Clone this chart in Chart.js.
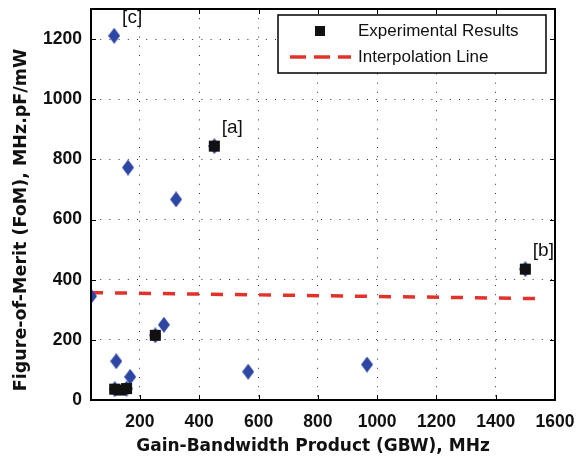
<!DOCTYPE html>
<html>
<head>
<meta charset="utf-8">
<script src="https://cdn.jsdelivr.net/npm/chart.js@4.4.1/dist/chart.umd.min.js"></script>
<style>
  html, body { margin: 0; padding: 0; background: #fff; }
  #chart { display: block; }
</style>
</head>
<body>
<canvas id="chart" width="586" height="459"></canvas>
<script>
// Experimental results (black squares)
const expX = [451, 1500, 252, 115, 135, 155];
const expY = [844, 435, 215, 36, 33, 38];

// Other reported works (blue diamonds)
const otherX = [113, 160, 322, 35, 120, 167, 281, 565, 966, 451, 1500, 252, 115, 155];
const otherY = [1211, 773, 667, 345, 129, 77, 250, 94, 118, 844, 435, 215, 36, 38];

// Interpolation line
const fitX = [35, 1550];
const fitY = [357, 337];

// Reference tags
const refLabels = ['[a]', '[b]', '[c]'];
const refX = [451, 1500, 113];
const refY = [844, 435, 1211];

// Tick labels
const xTickValues = [200, 400, 600, 800, 1000, 1200, 1400, 1600];
const yTickValues = [0, 200, 400, 600, 800, 1000, 1200];

const xTitle = 'Gain-Bandwidth Product (GBW), MHz';
const yTitle = 'Figure-of-Merit (FoM), MHz.pF/mW';

const blue = '#2d46a3';
const red = '#e2332b';
const tickFont = { family: '"Liberation Sans", Arial, sans-serif', size: 17.5, weight: 'bold' };

function toPoints(xs, ys) {
  return xs.map((x, i) => ({ x: x, y: ys[i] }));
}

// diamond marker, a bit taller than wide like the matlab one
function diamondMarker(w, h, color) {
  const c = document.createElement('canvas');
  c.width = w;
  c.height = h;
  const g = c.getContext('2d');
  g.fillStyle = color;
  g.beginPath();
  g.moveTo(w / 2, 0);
  g.lineTo(w, h / 2);
  g.lineTo(w / 2, h);
  g.lineTo(0, h / 2);
  g.closePath();
  g.fill();
  return c;
}

// frame around the plot with inward ticks on all four sides
const framePlugin = {
  id: 'frame',
  afterDatasetsDraw(chart) {
    const { ctx, chartArea: a, scales } = chart;
    ctx.save();
    ctx.strokeStyle = '#000';
    ctx.lineWidth = 1;
    const len = 5;
    ctx.beginPath();
    scales.x.ticks.forEach((t) => {
      const px = Math.round(scales.x.getPixelForValue(t.value)) + 0.5;
      ctx.moveTo(px, a.bottom);
      ctx.lineTo(px, a.bottom - len);
      ctx.moveTo(px, a.top);
      ctx.lineTo(px, a.top + len);
    });
    scales.y.ticks.forEach((t) => {
      const py = Math.round(scales.y.getPixelForValue(t.value)) + 0.5;
      ctx.moveTo(a.left, py);
      ctx.lineTo(a.left + len, py);
      ctx.moveTo(a.right, py);
      ctx.lineTo(a.right - len, py);
    });
    ctx.stroke();
    ctx.lineWidth = 2;
    ctx.strokeRect(a.left, a.top, a.right - a.left, a.bottom - a.top);
    ctx.restore();
  },
};

// axis titles, placed like the matlab figure (a little off the plot centre)
const titlePlugin = {
  id: 'axisTitles',
  afterDraw(chart) {
    const { ctx } = chart;
    ctx.save();
    ctx.fillStyle = '#111';
    ctx.textAlign = 'center';
    ctx.textBaseline = 'middle';
    ctx.font = 'bold 17px "DejaVu Sans", sans-serif';
    ctx.fillText(xTitle, 313, 447);
    ctx.font = 'bold 17.5px "DejaVu Sans", sans-serif';
    ctx.translate(21, 220);
    ctx.rotate(-Math.PI / 2);
    ctx.fillText(yTitle, 0, 0);
    ctx.restore();
  },
};

// [a] [b] [c] tags next to the points
const tagPlugin = {
  id: 'tags',
  afterDatasetsDraw(chart) {
    const { ctx, scales } = chart;
    ctx.save();
    ctx.fillStyle = '#111';
    ctx.font = '19px "Liberation Sans", Arial, sans-serif';
    ctx.textAlign = 'center';
    ctx.textBaseline = 'middle';
    refLabels.forEach((lab, i) => {
      const px = scales.x.getPixelForValue(refX[i]);
      const py = scales.y.getPixelForValue(refY[i]);
      ctx.fillText(lab, px + 18, py - 18);
    });
    ctx.restore();
  },
};

// boxed legend in the upper right corner
const legendPlugin = {
  id: 'boxLegend',
  afterDraw(chart) {
    const { ctx } = chart;
    const box = { x: 278, y: 15, w: 268, h: 58 };
    ctx.save();
    ctx.fillStyle = '#fff';
    ctx.fillRect(box.x, box.y, box.w, box.h);
    ctx.strokeStyle = '#000';
    ctx.lineWidth = 1.5;
    ctx.strokeRect(box.x, box.y, box.w, box.h);

    const exp = chart.data.datasets[0];
    const fit = chart.data.datasets[2];
    ctx.font = '17px "Liberation Sans", Arial, sans-serif';
    ctx.textBaseline = 'middle';

    // square marker row
    ctx.fillStyle = exp.backgroundColor;
    ctx.fillRect(320 - 5, 31 - 5, 10, 10);
    ctx.fillStyle = '#111';
    ctx.fillText(exp.label, 358, 31);

    // dashed line row
    ctx.strokeStyle = fit.borderColor;
    ctx.lineWidth = fit.borderWidth;
    ctx.setLineDash([16, 8]);
    ctx.beginPath();
    ctx.moveTo(290, 57);
    ctx.lineTo(351, 57);
    ctx.stroke();
    ctx.setLineDash([]);
    ctx.fillText(fit.label, 358, 57);
    ctx.restore();
  },
};

const ctx = document.getElementById('chart').getContext('2d');
new Chart(ctx, {
  type: 'scatter',
  data: {
    datasets: [
      {
        label: 'Experimental Results',
        data: toPoints(expX, expY),
        pointStyle: 'rect',
        pointRadius: 7.8,
        backgroundColor: '#111',
        borderColor: '#111',
        borderWidth: 0,
        order: 0,
      },
      {
        label: 'Other Works',
        data: toPoints(otherX, otherY),
        pointStyle: diamondMarker(12, 16, blue),
        pointRadius: 8,
        backgroundColor: blue,
        borderColor: blue,
        order: 1,
      },
      {
        type: 'line',
        label: 'Interpolation Line',
        data: toPoints(fitX, fitY),
        showLine: true,
        borderColor: red,
        backgroundColor: red,
        borderWidth: 3.5,
        borderDash: [12, 12],
        pointRadius: 0,
        fill: false,
        order: 2,
      },
    ],
  },
  options: {
    responsive: false,
    animation: false,
    layout: { padding: { left: 0, right: 31, top: 5, bottom: 0 } },
    plugins: {
      legend: { display: false },
      tooltip: { enabled: false },
    },
    scales: {
      x: {
        type: 'linear',
        min: 35,
        max: 1600,
        afterBuildTicks: (scale) => {
          scale.ticks = xTickValues.map((v) => ({ value: v }));
        },
        afterFit: (scale) => {
          scale.height = 59;
          scale.paddingLeft = 0;
          scale.paddingRight = 0;
        },
        grid: { color: '#333', lineWidth: 1, drawTicks: false },
        border: { display: false, dash: [1, 8.2] },
        ticks: {
          padding: 12,
          color: '#111',
          maxRotation: 0,
          font: tickFont,
          callback: (v) => String(v),
        },
      },
      y: {
        type: 'linear',
        min: 0,
        max: 1300,
        afterBuildTicks: (scale) => {
          scale.ticks = yTickValues.map((v) => ({ value: v }));
        },
        afterFit: (scale) => {
          scale.width = 91;
          scale.paddingTop = 0;
          scale.paddingBottom = 0;
        },
        grid: { color: '#333', lineWidth: 1, drawTicks: false },
        border: { display: false, dash: [1, 8.2] },
        ticks: {
          padding: 9,
          color: '#111',
          font: tickFont,
          callback: (v) => String(v),
        },
      },
    },
  },
  plugins: [framePlugin, tagPlugin, titlePlugin, legendPlugin],
});
</script>
</body>
</html>
